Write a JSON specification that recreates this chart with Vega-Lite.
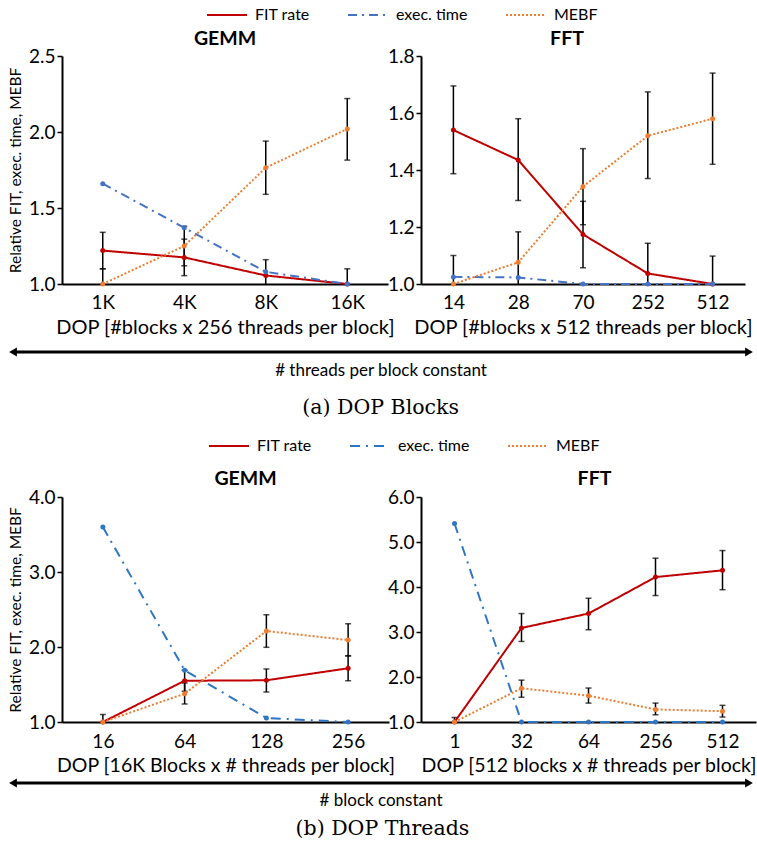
{
  "$schema": "https://vega.github.io/schema/vega-lite/v6.json",
  "padding": {"left": 8, "top": -6, "right": 0, "bottom": 2},
  "background": "white",
  "config": {
    "font": "Lato",
    "view": {"stroke": null},
    "axis": {"domainColor": "black", "domainWidth": 2, "tickColor": "black", "tickWidth": 1.5, "labelColor": "black", "titleColor": "black", "labelFont": "Lato", "titleFont": "Lato", "labelFontSize": 19, "titleFontSize": 20, "titleFontWeight": "normal", "grid": false},
    "axisX": {"ticks": false, "tickSize": 0, "labelPadding": 9, "titlePadding": 5, "labelAngle": 0},
    "axisY": {"tickSize": 5, "labelPadding": 2, "titleFontSize": 15.5, "titlePadding": 5},
    "title": {"font": "Lato", "fontSize": 19.5, "fontWeight": "bold", "color": "black"},
    "legend": {"direction": "horizontal", "symbolType": "stroke", "symbolSize": 1600, "symbolStrokeWidth": 2, "labelFontSize": 16, "labelFont": "Lato", "labelColor": "black", "columnPadding": 34, "labelOffset": 7}
  },
  "resolve": {"scale": {"color": "independent", "strokeDash": "independent"}, "legend": {"color": "independent", "strokeDash": "independent"}},
  "datasets": {
    "gemmA": [
      {"dop": "1K", "series": "FIT rate", "value": 1.22, "lo": 1.10, "hi": 1.34},
      {"dop": "4K", "series": "FIT rate", "value": 1.175, "lo": 1.055, "hi": 1.295},
      {"dop": "8K", "series": "FIT rate", "value": 1.056, "lo": 0.956, "hi": 1.16},
      {"dop": "16K", "series": "FIT rate", "value": 1.0, "lo": 0.9, "hi": 1.1},
      {"dop": "1K", "series": "exec. time", "value": 1.66, "lo": null, "hi": null},
      {"dop": "4K", "series": "exec. time", "value": 1.37, "lo": null, "hi": null},
      {"dop": "8K", "series": "exec. time", "value": 1.08, "lo": null, "hi": null},
      {"dop": "16K", "series": "exec. time", "value": 1.0, "lo": null, "hi": null},
      {"dop": "1K", "series": "MEBF", "value": 1.0, "lo": 0.9, "hi": 1.1},
      {"dop": "4K", "series": "MEBF", "value": 1.25, "lo": 1.12, "hi": 1.38},
      {"dop": "8K", "series": "MEBF", "value": 1.765, "lo": 1.59, "hi": 1.94},
      {"dop": "16K", "series": "MEBF", "value": 2.02, "lo": 1.815, "hi": 2.22}
    ],
    "fftA": [
      {"dop": "14", "series": "FIT rate", "value": 1.54, "lo": 1.387, "hi": 1.695},
      {"dop": "28", "series": "FIT rate", "value": 1.435, "lo": 1.293, "hi": 1.58},
      {"dop": "70", "series": "FIT rate", "value": 1.174, "lo": 1.057, "hi": 1.29},
      {"dop": "252", "series": "FIT rate", "value": 1.037, "lo": 0.93, "hi": 1.143},
      {"dop": "512", "series": "FIT rate", "value": 1.0, "lo": 0.9, "hi": 1.098},
      {"dop": "14", "series": "exec. time", "value": 1.025, "lo": null, "hi": null},
      {"dop": "28", "series": "exec. time", "value": 1.023, "lo": null, "hi": null},
      {"dop": "70", "series": "exec. time", "value": 1.0, "lo": null, "hi": null},
      {"dop": "252", "series": "exec. time", "value": 1.0, "lo": null, "hi": null},
      {"dop": "512", "series": "exec. time", "value": 1.0, "lo": null, "hi": null},
      {"dop": "14", "series": "MEBF", "value": 1.0, "lo": 0.9, "hi": 1.1},
      {"dop": "28", "series": "MEBF", "value": 1.076, "lo": 0.97, "hi": 1.183},
      {"dop": "70", "series": "MEBF", "value": 1.342, "lo": 1.208, "hi": 1.475},
      {"dop": "252", "series": "MEBF", "value": 1.52, "lo": 1.37, "hi": 1.674},
      {"dop": "512", "series": "MEBF", "value": 1.58, "lo": 1.42, "hi": 1.74}
    ],
    "gemmB": [
      {"dop": "16", "series": "FIT rate", "value": 1.0, "lo": 0.9, "hi": 1.1},
      {"dop": "64", "series": "FIT rate", "value": 1.55, "lo": 1.41, "hi": 1.69},
      {"dop": "128", "series": "FIT rate", "value": 1.556, "lo": 1.40, "hi": 1.707},
      {"dop": "256", "series": "FIT rate", "value": 1.716, "lo": 1.55, "hi": 1.884},
      {"dop": "16", "series": "exec. time", "value": 3.6, "lo": null, "hi": null},
      {"dop": "64", "series": "exec. time", "value": 1.69, "lo": null, "hi": null},
      {"dop": "128", "series": "exec. time", "value": 1.053, "lo": null, "hi": null},
      {"dop": "256", "series": "exec. time", "value": 1.0, "lo": null, "hi": null},
      {"dop": "16", "series": "MEBF", "value": 1.0, "lo": null, "hi": null},
      {"dop": "64", "series": "MEBF", "value": 1.377, "lo": 1.24, "hi": 1.52},
      {"dop": "128", "series": "MEBF", "value": 2.213, "lo": 1.996, "hi": 2.43},
      {"dop": "256", "series": "MEBF", "value": 2.093, "lo": 1.88, "hi": 2.31}
    ],
    "fftB": [
      {"dop": "1", "series": "FIT rate", "value": 1.0, "lo": 0.9, "hi": 1.1},
      {"dop": "32", "series": "FIT rate", "value": 3.09, "lo": 2.79, "hi": 3.41},
      {"dop": "64", "series": "FIT rate", "value": 3.41, "lo": 3.05, "hi": 3.75},
      {"dop": "256", "series": "FIT rate", "value": 4.22, "lo": 3.81, "hi": 4.64},
      {"dop": "512", "series": "FIT rate", "value": 4.37, "lo": 3.94, "hi": 4.81},
      {"dop": "1", "series": "exec. time", "value": 5.41, "lo": null, "hi": null},
      {"dop": "32", "series": "exec. time", "value": 1.0, "lo": null, "hi": null},
      {"dop": "64", "series": "exec. time", "value": 1.0, "lo": null, "hi": null},
      {"dop": "256", "series": "exec. time", "value": 1.0, "lo": null, "hi": null},
      {"dop": "512", "series": "exec. time", "value": 1.0, "lo": null, "hi": null},
      {"dop": "1", "series": "MEBF", "value": 1.0, "lo": null, "hi": null},
      {"dop": "32", "series": "MEBF", "value": 1.75, "lo": 1.55, "hi": 1.93},
      {"dop": "64", "series": "MEBF", "value": 1.585, "lo": 1.42, "hi": 1.755},
      {"dop": "256", "series": "MEBF", "value": 1.28, "lo": 1.16, "hi": 1.42},
      {"dop": "512", "series": "MEBF", "value": 1.24, "lo": 1.11, "hi": 1.37}
    ]
  },
  "vconcat": [
    {
      "title": {"text": "(a) DOP Blocks", "orient": "bottom", "anchor": "middle", "font": "DejaVu Serif", "fontSize": 20.5, "fontWeight": "normal", "offset": 19},
      "spacing": 7,
      "resolve": {"scale": {"color": "independent", "strokeDash": "independent"}, "legend": {"color": "independent", "strokeDash": "independent"}},
      "vconcat": [
        {
          "bounds": "flush",
          "spacing": 33,
          "resolve": {"scale": {"y": "independent"}},
          "hconcat": [
            {
              "title": {"text": "GEMM", "offset": -2},
              "width": 326, "height": 228,
              "data": {"name": "gemmA"},
              "encoding": {"x": {"field": "dop", "type": "ordinal", "scale": {"type": "point", "padding": 0.5, "domain": ["1K", "4K", "8K", "16K"]}, "axis": {"title": "DOP [#blocks x 256 threads per block]"}}},
              "layer": [
                {"transform": [{"filter": "isValid(datum.lo)"}], "mark": {"type": "rule", "color": "black", "strokeWidth": 1.5, "clip": true}, "encoding": {"y": {"field": "lo", "type": "quantitative", "scale": {"domain": [1, 2.5], "nice": false, "zero": false}, "axis": {"values": [1, 1.5, 2, 2.5], "format": ".1f", "title": "Relative FIT, exec. time, MEBF"}}, "y2": {"field": "hi"}}},
                {"transform": [{"filter": "isValid(datum.lo)"}], "mark": {"type": "tick", "color": "black", "thickness": 1.5, "size": 6, "clip": true}, "encoding": {"y": {"field": "lo", "type": "quantitative"}}},
                {"transform": [{"filter": "isValid(datum.lo)"}], "mark": {"type": "tick", "color": "black", "thickness": 1.5, "size": 6, "clip": true}, "encoding": {"y": {"field": "hi", "type": "quantitative"}}},
                {"mark": {"type": "line", "strokeWidth": 2}, "encoding": {"y": {"field": "value", "type": "quantitative"},
                  "color": {"field": "series", "type": "nominal", "scale": {"domain": ["FIT rate", "exec. time", "MEBF"], "range": ["#c00000", "#4472c4", "#ed7d31"]}, "legend": {"orient": "none", "legendX": 144, "legendY": -62, "title": null}},
                  "strokeDash": {"field": "series", "type": "nominal", "scale": {"domain": ["FIT rate", "exec. time", "MEBF"], "range": [[1, 0], [9, 5, 2, 5], [2, 2]]}, "legend": {"orient": "none", "legendX": 144, "legendY": -62, "title": null}}}},
                {"mark": {"type": "point", "filled": true, "size": 25, "opacity": 1}, "encoding": {"y": {"field": "value", "type": "quantitative"}, "color": {"field": "series", "type": "nominal", "legend": null}}}
              ]
            },
            {
              "title": {"text": "FFT", "offset": -2, "dx": -16},
              "width": 324, "height": 228,
              "data": {"name": "fftA"},
              "encoding": {"x": {"field": "dop", "type": "ordinal", "scale": {"type": "point", "padding": 0.5, "domain": ["14", "28", "70", "252", "512"]}, "axis": {"title": "DOP [#blocks x 512 threads per block]"}}},
              "layer": [
                {"transform": [{"filter": "isValid(datum.lo)"}], "mark": {"type": "rule", "color": "black", "strokeWidth": 1.5, "clip": true}, "encoding": {"y": {"field": "lo", "type": "quantitative", "scale": {"domain": [1, 1.8], "nice": false, "zero": false}, "axis": {"values": [1, 1.2, 1.4, 1.6, 1.8], "format": ".1f", "title": null}}, "y2": {"field": "hi"}}},
                {"transform": [{"filter": "isValid(datum.lo)"}], "mark": {"type": "tick", "color": "black", "thickness": 1.5, "size": 6, "clip": true}, "encoding": {"y": {"field": "lo", "type": "quantitative"}}},
                {"transform": [{"filter": "isValid(datum.lo)"}], "mark": {"type": "tick", "color": "black", "thickness": 1.5, "size": 6, "clip": true}, "encoding": {"y": {"field": "hi", "type": "quantitative"}}},
                {"mark": {"type": "line", "strokeWidth": 2}, "encoding": {"y": {"field": "value", "type": "quantitative"},
                  "color": {"field": "series", "type": "nominal", "scale": {"domain": ["FIT rate", "exec. time", "MEBF"], "range": ["#c00000", "#4472c4", "#ed7d31"]}, "legend": null},
                  "strokeDash": {"field": "series", "type": "nominal", "scale": {"domain": ["FIT rate", "exec. time", "MEBF"], "range": [[1, 0], [9, 5, 2, 5], [2, 2]]}, "legend": null}}},
                {"mark": {"type": "point", "filled": true, "size": 25, "opacity": 1}, "encoding": {"y": {"field": "value", "type": "quantitative"}, "color": {"field": "series", "type": "nominal", "legend": null}}}
              ]
            }
          ]
        },
        {
          "width": 690, "height": 16,
          "data": {"values": [{"from": 0, "to": 1, "label": "# threads per block constant"}]},
          "layer": [
            {"mark": {"type": "rule", "color": "black", "strokeWidth": 3}, "encoding": {"x": {"field": "from", "type": "quantitative", "scale": {"domain": [0, 1], "range": [-49, 687], "nice": false, "zero": false}, "axis": null}, "x2": {"field": "to"}}},
            {"mark": {"type": "point", "shape": "triangle-left", "filled": true, "color": "black", "opacity": 1, "size": 80}, "encoding": {"x": {"field": "from", "type": "quantitative"}}},
            {"mark": {"type": "point", "shape": "triangle-right", "filled": true, "color": "black", "opacity": 1, "size": 80}, "encoding": {"x": {"field": "to", "type": "quantitative"}}},
            {"mark": {"type": "text", "dy": 19, "fontSize": 17, "font": "Lato", "color": "black"}, "encoding": {"x": {"datum": 0.5, "type": "quantitative"}, "text": {"field": "label"}}}
          ]
        }
      ]
    },
    {
      "title": {"text": "(b) DOP Threads", "orient": "bottom", "anchor": "middle", "font": "DejaVu Serif", "fontSize": 20.5, "fontWeight": "normal", "offset": 10},
      "spacing": 3,
      "resolve": {"scale": {"color": "independent", "strokeDash": "independent"}, "legend": {"color": "independent", "strokeDash": "independent"}},
      "vconcat": [
        {
          "bounds": "flush",
          "spacing": 32,
          "resolve": {"scale": {"y": "independent"}},
          "hconcat": [
            {
              "title": {"text": "GEMM", "offset": -1, "dx": 20},
              "width": 327, "height": 225,
              "data": {"name": "gemmB"},
              "encoding": {"x": {"field": "dop", "type": "ordinal", "scale": {"type": "point", "padding": 0.5, "domain": ["16", "64", "128", "256"]}, "axis": {"title": "DOP [16K Blocks x # threads per block]", "labelPadding": 10, "titlePadding": 5, "titleFontSize": 19.5}}},
              "layer": [
                {"transform": [{"filter": "isValid(datum.lo)"}], "mark": {"type": "rule", "color": "black", "strokeWidth": 1.5, "clip": true}, "encoding": {"y": {"field": "lo", "type": "quantitative", "scale": {"domain": [1, 4], "nice": false, "zero": false}, "axis": {"values": [1, 1.5, 2, 2.5, 3, 3.5, 4], "format": ".1f", "title": "Relative FIT, exec. time, MEBF"}}, "y2": {"field": "hi"}}},
                {"transform": [{"filter": "isValid(datum.lo)"}], "mark": {"type": "tick", "color": "black", "thickness": 1.5, "size": 6, "clip": true}, "encoding": {"y": {"field": "lo", "type": "quantitative"}}},
                {"transform": [{"filter": "isValid(datum.lo)"}], "mark": {"type": "tick", "color": "black", "thickness": 1.5, "size": 6, "clip": true}, "encoding": {"y": {"field": "hi", "type": "quantitative"}}},
                {"mark": {"type": "line", "strokeWidth": 2}, "encoding": {"y": {"field": "value", "type": "quantitative"},
                  "color": {"field": "series", "type": "nominal", "scale": {"domain": ["FIT rate", "exec. time", "MEBF"], "range": ["#c00000", "#2f75c5", "#ed7d31"]}, "legend": {"orient": "none", "legendX": 146, "legendY": -72, "title": null}},
                  "strokeDash": {"field": "series", "type": "nominal", "scale": {"domain": ["FIT rate", "exec. time", "MEBF"], "range": [[1, 0], [10, 6, 2, 6], [2, 2]]}, "legend": {"orient": "none", "legendX": 146, "legendY": -72, "title": null}}}},
                {"mark": {"type": "point", "filled": true, "size": 25, "opacity": 1}, "encoding": {"y": {"field": "value", "type": "quantitative"}, "color": {"field": "series", "type": "nominal", "legend": null}}}
              ]
            },
            {
              "title": {"text": "FFT", "offset": -1, "dx": 6},
              "width": 335, "height": 225,
              "data": {"name": "fftB"},
              "encoding": {"x": {"field": "dop", "type": "ordinal", "scale": {"type": "point", "padding": 0.5, "domain": ["1", "32", "64", "256", "512"]}, "axis": {"title": "DOP [512 blocks x # threads per block]", "labelPadding": 10, "titlePadding": 5, "titleFontSize": 19.5}}},
              "layer": [
                {"transform": [{"filter": "isValid(datum.lo)"}], "mark": {"type": "rule", "color": "black", "strokeWidth": 1.5, "clip": true}, "encoding": {"y": {"field": "lo", "type": "quantitative", "scale": {"domain": [1, 6], "nice": false, "zero": false}, "axis": {"values": [1, 2, 3, 4, 5, 6], "format": ".1f", "title": null}}, "y2": {"field": "hi"}}},
                {"transform": [{"filter": "isValid(datum.lo)"}], "mark": {"type": "tick", "color": "black", "thickness": 1.5, "size": 6, "clip": true}, "encoding": {"y": {"field": "lo", "type": "quantitative"}}},
                {"transform": [{"filter": "isValid(datum.lo)"}], "mark": {"type": "tick", "color": "black", "thickness": 1.5, "size": 6, "clip": true}, "encoding": {"y": {"field": "hi", "type": "quantitative"}}},
                {"mark": {"type": "line", "strokeWidth": 2}, "encoding": {"y": {"field": "value", "type": "quantitative"},
                  "color": {"field": "series", "type": "nominal", "scale": {"domain": ["FIT rate", "exec. time", "MEBF"], "range": ["#c00000", "#2f75c5", "#ed7d31"]}, "legend": null},
                  "strokeDash": {"field": "series", "type": "nominal", "scale": {"domain": ["FIT rate", "exec. time", "MEBF"], "range": [[1, 0], [10, 6, 2, 6], [2, 2]]}, "legend": null}}},
                {"mark": {"type": "point", "filled": true, "size": 25, "opacity": 1}, "encoding": {"y": {"field": "value", "type": "quantitative"}, "color": {"field": "series", "type": "nominal", "legend": null}}}
              ]
            }
          ]
        },
        {
          "width": 690, "height": 10,
          "data": {"values": [{"from": 0, "to": 1, "label": "# block constant"}]},
          "layer": [
            {"mark": {"type": "rule", "color": "black", "strokeWidth": 3}, "encoding": {"x": {"field": "from", "type": "quantitative", "scale": {"domain": [0, 1], "range": [-49, 687], "nice": false, "zero": false}, "axis": null}, "x2": {"field": "to"}}},
            {"mark": {"type": "point", "shape": "triangle-left", "filled": true, "color": "black", "opacity": 1, "size": 80}, "encoding": {"x": {"field": "from", "type": "quantitative"}}},
            {"mark": {"type": "point", "shape": "triangle-right", "filled": true, "color": "black", "opacity": 1, "size": 80}, "encoding": {"x": {"field": "to", "type": "quantitative"}}},
            {"mark": {"type": "text", "dy": 18, "fontSize": 17, "font": "Lato", "color": "black"}, "encoding": {"x": {"datum": 0.5, "type": "quantitative"}, "text": {"field": "label"}}}
          ]
        }
      ]
    }
  ],
  "spacing": 6
}
